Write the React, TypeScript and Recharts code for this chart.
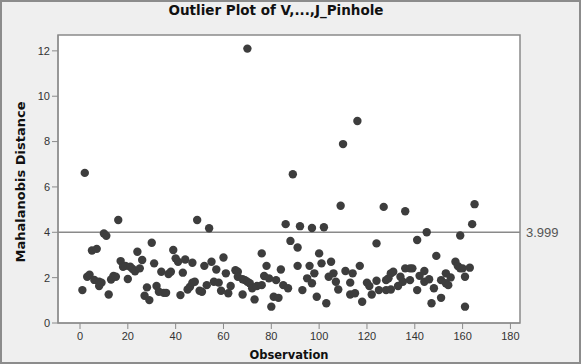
import {
  ScatterChart,
  Scatter,
  XAxis,
  YAxis,
  CartesianGrid,
  ReferenceLine,
  ReferenceArea,
} from "recharts";

// observation numbers and Mahalanobis distances
const observation = [
  1, 2, 3, 4, 5, 6, 7, 8, 8, 9, 10, 11, 12, 13, 14, 15, 16, 17, 18, 19, 20,
  21, 22, 23, 24, 25, 26, 27, 28, 29, 30, 31, 32, 33, 34, 35, 36, 37, 38, 39,
  40, 41, 42, 43, 44, 45, 46, 47, 47, 48, 49, 50, 51, 52, 53, 54, 55, 56, 57,
  58, 59, 60, 61, 62, 63, 65, 66, 66, 68, 68, 69, 70, 70, 71, 72, 73, 74, 76,
  76, 77, 78, 79, 80, 81, 82, 83, 84, 85, 86, 87, 88, 89, 91, 91, 92, 93, 95,
  96, 97, 97, 98, 99, 100, 101, 102, 103, 104, 105, 106, 107, 108, 109, 110,
  111, 113, 113, 114, 115, 116, 117, 118, 120, 121, 122, 124, 124, 125, 127,
  128, 128, 129, 130, 130, 131, 133, 134, 135, 136, 136, 138, 138, 139, 141,
  141, 142, 144, 144, 145, 146, 147, 148, 149, 151, 151, 153, 153, 154, 155,
  157, 158, 159, 159, 160, 161, 161, 163, 164, 165,
];
const distance = [
  1.45, 6.62, 2.04, 2.13, 3.2, 1.9, 3.27, 1.82, 1.63, 1.78, 3.95, 3.85, 1.26,
  1.92, 2.07, 2.04, 4.54, 2.73, 2.48, 2.52, 1.94, 2.48, 2.38, 2.28, 3.14, 2.41,
  2.78, 1.2, 1.57, 1.01, 3.54, 2.63, 1.63, 1.38, 2.26, 1.33, 1.33, 2.16, 2.26,
  3.22, 2.85, 2.7, 1.23, 2.22, 2.8, 1.48, 1.6, 2.66, 1.78, 1.82, 4.54, 1.42,
  1.38, 2.52, 1.67, 4.18, 2.7, 1.82, 2.36, 1.78, 1.42, 2.89, 2.19, 1.31, 1.63,
  2.33, 2.26, 2.04, 1.93, 1.26, 1.89, 12.1, 1.82, 1.75, 1.53, 1.04, 1.63, 1.67,
  3.07, 2.07, 2.52, 1.97, 0.72, 1.16, 1.89, 1.11, 2.36, 1.67, 4.36, 1.53, 3.62,
  6.56, 2.52, 3.33, 4.27, 1.45, 1.97, 2.52, 1.75, 4.19, 2.19, 1.16, 3.07, 2.63,
  4.22, 0.87, 2.04, 2.7, 2.19, 1.82, 1.48, 5.17, 7.89, 2.29, 1.78, 1.26, 2.19,
  1.31, 8.91, 2.52, 0.94, 1.78, 1.63, 1.26, 3.51, 1.86, 1.45, 5.12, 1.89, 1.45,
  1.97, 2.19, 1.48, 2.26, 1.63, 2.04, 1.82, 4.93, 2.41, 2.41, 1.89, 2.41, 3.66,
  1.45, 2.08, 1.82, 2.29, 4.0, 1.93, 0.87, 1.53, 2.96, 1.11, 1.89, 2.19, 1.75,
  1.67, 2.01, 2.7, 2.51, 3.86, 2.41, 2.41, 2.04, 0.72, 2.44, 4.36, 5.24,
];
const xTicks = [0, 20, 40, 60, 80, 100, 120, 140, 160, 180];
const yTicks = [0, 2, 4, 6, 8, 10, 12];
const cutoff = 3.999;

const points = observation.map((x, i) => ({ x, y: distance[i] }));

const X_DOMAIN: [number, number] = [-9.2, 184];
const Y_DOMAIN: [number, number] = [0, 12.7];
const boldFont = "DejaVu Sans, Verdana, sans-serif";
const tickFont = "Liberation Sans, Arial, sans-serif";
const tickStyle = { fontSize: 11, fill: "#333", fontFamily: tickFont };

export default function App() {
  return (
    <div
      style={{
        position: "absolute",
        left: 0,
        top: 0,
        width: 581,
        height: 364,
        background: "#efefef",
      }}
    >
      <div
        style={{
          position: "absolute",
          left: 0,
          top: 2,
          width: 552,
          textAlign: "center",
          fontFamily: boldFont,
          fontWeight: "bold",
          fontSize: 13.5,
          color: "#111",
        }}
      >
        Outlier Plot of V,...,J_Pinhole
      </div>
      <ScatterChart
        width={581}
        height={364}
        margin={{ top: 35, right: 61, bottom: 0, left: 0 }}
      >
        <CartesianGrid horizontal={false} vertical={false} fill="#fff" />
        <ReferenceArea
          x1={X_DOMAIN[0]}
          x2={X_DOMAIN[1]}
          y1={Y_DOMAIN[0]}
          y2={Y_DOMAIN[1]}
          fill="none"
          fillOpacity={0}
          stroke="#8a8a8a"
          strokeWidth={1.5}
        />
        <XAxis
          type="number"
          dataKey="x"
          domain={X_DOMAIN}
          ticks={xTicks}
          allowDataOverflow
          height={41}
          stroke="#8a8a8a"
          tick={tickStyle}
          tickMargin={3}
          label={{
            value: "Observation",
            position: "insideBottom",
            offset: 5,
            style: { fontFamily: boldFont, fontWeight: "bold", fontSize: 11.5, fill: "#111" },
          }}
        />
        <YAxis
          type="number"
          dataKey="y"
          domain={Y_DOMAIN}
          ticks={yTicks}
          allowDataOverflow
          width={58}
          stroke="#8a8a8a"
          tick={tickStyle}
          label={{
            value: "Mahalanobis Distance",
            angle: -90,
            position: "insideLeft",
            offset: 20,
            dx: 0,
            dy: 3,
            style: {
              textAnchor: "middle",
              fontFamily: boldFont,
              fontWeight: "bold",
              fontSize: 13,
              fill: "#111",
            },
          }}
        />
        <ReferenceLine
          y={cutoff}
          stroke="#8a8a8a"
          strokeWidth={1.5}
          label={{
            value: "3.999",
            position: "right",
            offset: 6,
            style: { fontFamily: tickFont, fontSize: 13, fill: "#555" },
          }}
        />
        <Scatter
          data={points}
          fill="#3d3d3d"
          isAnimationActive={false}
          shape={(props: any) => (
            <circle cx={props.cx} cy={props.cy} r={4.2} fill="#3d3d3d" />
          )}
        />
      </ScatterChart>
      <div
        style={{
          position: "absolute",
          left: 0,
          top: 0,
          width: 581,
          height: 364,
          boxSizing: "border-box",
          border: "2px solid #8c8c8c",
          pointerEvents: "none",
        }}
      />
    </div>
  );
}
